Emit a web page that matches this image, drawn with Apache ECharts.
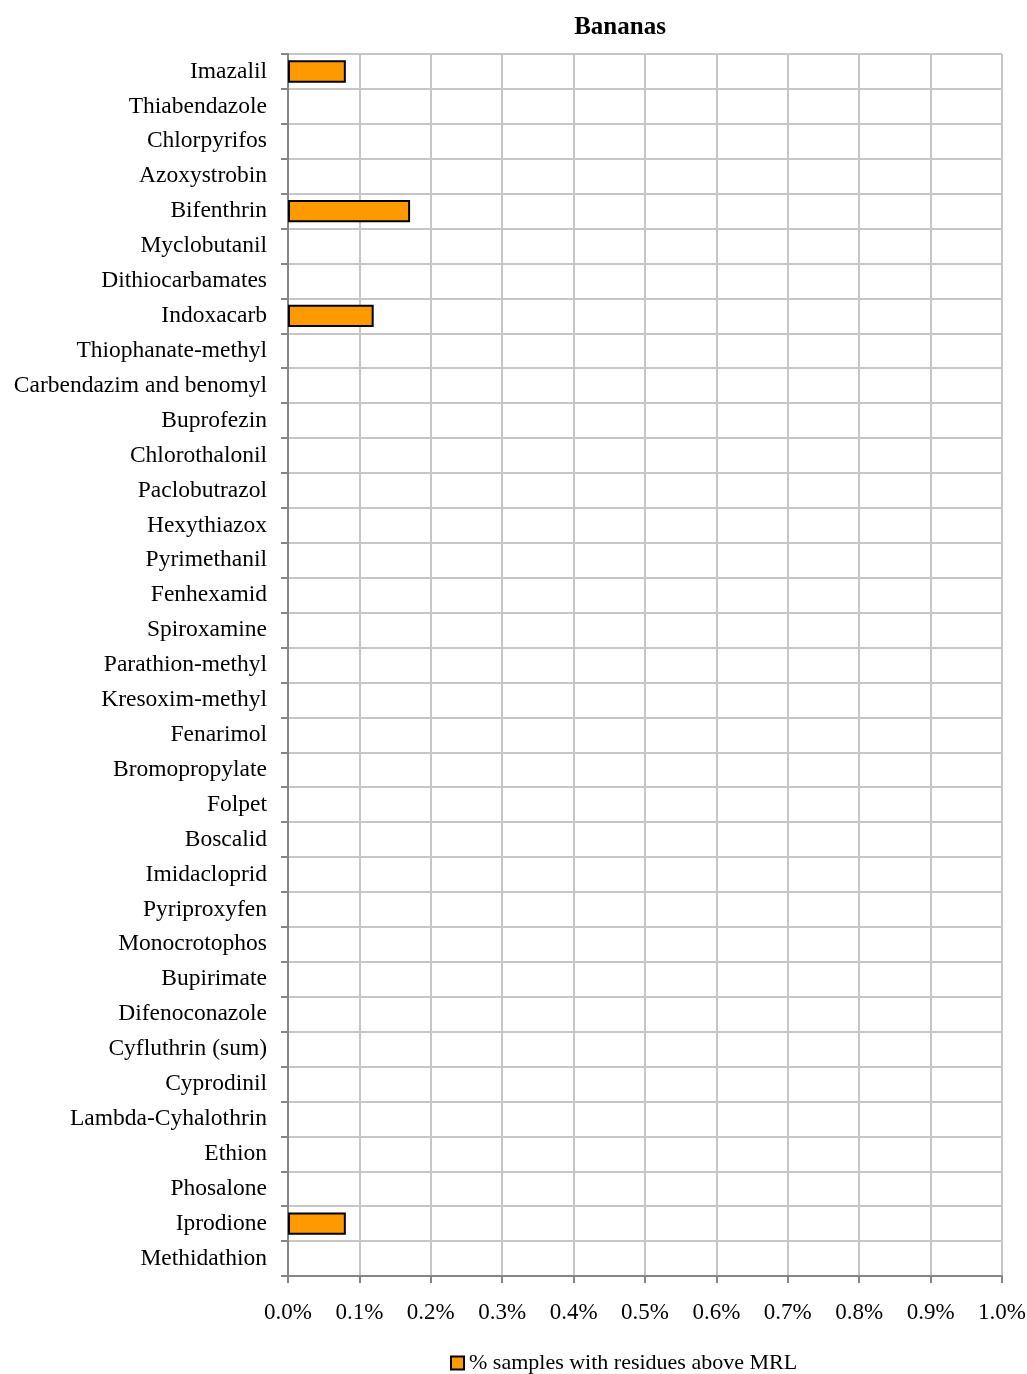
<!DOCTYPE html>
<html><head><meta charset="utf-8">
<script src="https://cdn.jsdelivr.net/npm/echarts@6/dist/echarts.min.js"></script>
<style>html,body{margin:0;padding:0;background:#fff}#c{width:1027px;height:1374px}</style>
</head><body><div id="c"></div>
<script>
const categories = ["Imazalil","Thiabendazole","Chlorpyrifos","Azoxystrobin","Bifenthrin","Myclobutanil","Dithiocarbamates","Indoxacarb","Thiophanate-methyl","Carbendazim and benomyl","Buprofezin","Chlorothalonil","Paclobutrazol","Hexythiazox","Pyrimethanil","Fenhexamid","Spiroxamine","Parathion-methyl","Kresoxim-methyl","Fenarimol","Bromopropylate","Folpet","Boscalid","Imidacloprid","Pyriproxyfen","Monocrotophos","Bupirimate","Difenoconazole","Cyfluthrin (sum)","Cyprodinil","Lambda-Cyhalothrin","Ethion","Phosalone","Iprodione","Methidathion"];
const values = [0.081,0,0,0,0.171,0,0,0.12,0,0,0,0,0,0,0,0,0,0,0,0,0,0,0,0,0,0,0,0,0,0,0,0,0,0.081,0];
const seriesName = "% samples with residues above MRL";
const font = "'Liberation Serif','Times New Roman',serif";
const chart = echarts.init(document.getElementById('c'), null, {renderer:'canvas'});
chart.setOption({
  animation:false,
  title:{text:'Bananas',left:615,top:10,textAlign:'center',textStyle:{fontFamily:font,fontSize:25,fontWeight:'bold',color:'#000'}},
  grid:{left:288,right:25,top:54,bottom:98,containLabel:false,outerBoundsMode:'none'},
  legend:{left:445,top:1347,itemWidth:13,itemHeight:13,icon:'rect',itemGap:6,
    textStyle:{fontFamily:font,fontSize:22,color:'#000'},data:[seriesName]},
  xAxis:{type:'value',min:0,max:1,interval:0.1,
    axisLine:{show:true,lineStyle:{color:'#868686',width:2}},
    axisTick:{show:true,length:7,lineStyle:{color:'#868686',width:2}},
    axisLabel:{fontFamily:font,fontSize:23,color:'#000',margin:25,formatter:v=>v.toFixed(1)+'%'},
    splitLine:{show:true,lineStyle:{color:'#c6c6c6',width:2}}},
  yAxis:{type:'category',data:categories,inverse:true,
    axisLine:{show:true,lineStyle:{color:'#868686',width:2}},
    axisTick:{show:true,length:7,lineStyle:{color:'#868686',width:2}},
    axisLabel:{fontFamily:font,fontSize:23.5,color:'#000',margin:21},
    splitLine:{show:true,lineStyle:{color:'#c6c6c6',width:2}}},
  series:[{name:seriesName,type:'bar',data:values.map(v=>v===0?'-':v),barWidth:'64%',
    itemStyle:{color:'#FF9900',borderColor:'#000',borderWidth:2}}]
});
</script></body></html>
